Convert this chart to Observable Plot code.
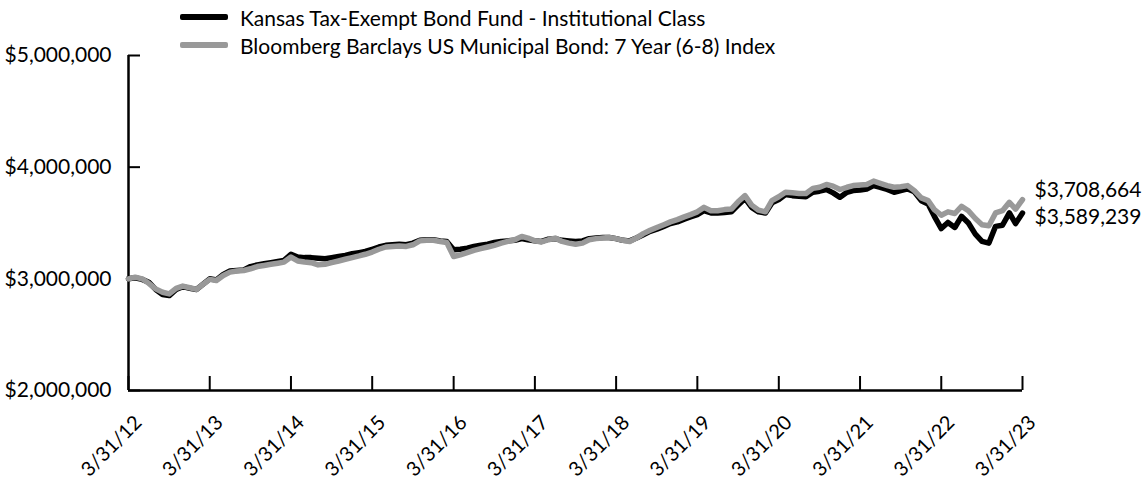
<!DOCTYPE html>
<html>
<head>
<meta charset="utf-8">
<script src="https://cdn.jsdelivr.net/npm/d3@7"></script>
<script src="https://cdn.jsdelivr.net/npm/@observablehq/plot@0.6"></script>
<style>
  html, body { margin: 0; padding: 0; background: #fff; }
  #wrap { position: relative; width: 1144px; height: 480px; font-family: Lato, "Open Sans", sans-serif; }
  #legend { position: absolute; left: 180px; top: 3px; font-size: 21px; color: #000; }
  .row { display: flex; align-items: center; height: 28px; }
  .sw { width: 48px; height: 6px; margin-right: 12px; border-radius: 2px; }
</style>
</head>
<body>
<div id="wrap"><div id="legend"></div></div>
<script>
// Series names
const seriesNames = ["Kansas Tax-Exempt Bond Fund - Institutional Class", "Bloomberg Barclays US Municipal Bond: 7 Year (6-8) Index"];
const seriesColors = ["#000000", "#999999"];

// Monthly values, 3/31/12 .. 3/31/23 (133 month-ends)
const fundValues = [
  3000000, 3010000, 2995000, 2970000, 2905000, 2860000, 2850000, 2905000, 2930000, 2915000, 2905000, 2950000,
  3000000, 2990000, 3040000, 3070000, 3075000, 3080000, 3110000, 3125000, 3135000, 3145000, 3155000, 3165000,
  3220000, 3195000, 3190000, 3190000, 3185000, 3180000, 3190000, 3200000, 3210000, 3225000, 3235000, 3245000,
  3265000, 3285000, 3300000, 3305000, 3310000, 3305000, 3320000, 3345000, 3350000, 3350000, 3340000, 3335000,
  3260000, 3265000, 3275000, 3290000, 3300000, 3310000, 3325000, 3335000, 3340000, 3345000, 3360000, 3350000,
  3340000, 3335000, 3355000, 3360000, 3345000, 3340000, 3335000, 3340000, 3360000, 3365000, 3370000, 3370000,
  3360000, 3345000, 3340000, 3365000, 3395000, 3425000, 3445000, 3470000, 3495000, 3510000, 3535000, 3555000,
  3575000, 3610000, 3590000, 3590000, 3595000, 3600000, 3660000, 3720000, 3640000, 3600000, 3590000, 3680000,
  3710000, 3755000, 3745000, 3740000, 3735000, 3775000, 3785000, 3800000, 3770000, 3730000, 3775000, 3790000,
  3795000, 3805000, 3835000, 3820000, 3800000, 3775000, 3790000, 3805000, 3780000, 3700000, 3670000, 3560000,
  3450000, 3505000, 3460000, 3560000, 3500000, 3400000, 3335000, 3320000, 3470000, 3480000, 3590000, 3495000,
  3589239
];
const indexValues = [
  3000000, 3015000, 3000000, 2960000, 2910000, 2880000, 2865000, 2915000, 2935000, 2920000, 2905000, 2950000,
  2995000, 2985000, 3030000, 3060000, 3070000, 3075000, 3090000, 3110000, 3120000, 3130000, 3140000, 3150000,
  3195000, 3160000, 3150000, 3145000, 3125000, 3130000, 3145000, 3160000, 3175000, 3190000, 3205000, 3220000,
  3240000, 3265000, 3285000, 3290000, 3295000, 3290000, 3305000, 3340000, 3345000, 3345000, 3335000, 3325000,
  3200000, 3215000, 3235000, 3255000, 3270000, 3285000, 3300000, 3320000, 3335000, 3350000, 3380000, 3365000,
  3340000, 3330000, 3350000, 3365000, 3335000, 3320000, 3310000, 3320000, 3350000, 3360000, 3365000, 3370000,
  3360000, 3345000, 3335000, 3365000, 3405000, 3435000, 3460000, 3485000, 3510000, 3530000, 3555000, 3575000,
  3600000, 3640000, 3610000, 3610000, 3620000, 3625000, 3690000, 3745000, 3660000, 3615000, 3600000, 3700000,
  3735000, 3775000, 3770000, 3765000, 3765000, 3810000, 3820000, 3845000, 3830000, 3800000, 3820000, 3835000,
  3840000, 3845000, 3875000, 3855000, 3835000, 3820000, 3825000, 3835000, 3790000, 3725000, 3700000, 3620000,
  3570000, 3600000, 3585000, 3650000, 3610000, 3540000, 3485000, 3475000, 3590000, 3610000, 3685000, 3625000,
  3708664
];
const yTicks = [2000000, 3000000, 4000000, 5000000];
const endLabels = ["$3,708,664", "$3,589,239"];

// Month-end dates
const monthEnd = i => new Date(Date.UTC(2012, 3 + i, 0));
const fundData = fundValues.map((v, i) => ({date: monthEnd(i), value: v}));
const indexData = indexValues.map((v, i) => ({date: monthEnd(i), value: v}));
const xTicks = d3.range(0, 133, 12).map(monthEnd);
const fmtDate = d => `${d.getUTCMonth() + 1}/${d.getUTCDate()}/${String(d.getUTCFullYear()).slice(2)}`;
const fmtMoney = v => "$" + d3.format(",")(v);

const lastIndex = [{date: monthEnd(132), value: indexValues[132], label: endLabels[0]}];
const lastFund = [{date: monthEnd(132), value: fundValues[132], label: endLabels[1]}];

const chart = Plot.plot({
  width: 1144,
  height: 480,
  marginLeft: 128,
  marginRight: 122,
  marginTop: 55,
  marginBottom: 90,
  style: {fontFamily: "Lato, 'Open Sans', sans-serif", fontSize: "20px", color: "#000", background: "#fff"},
  x: {type: "utc", domain: [monthEnd(0), monthEnd(132)]},
  y: {domain: [2000000, 5000000]},
  marks: [
    Plot.axisY({ticks: yTicks, tickSize: 0, tickPadding: 17, tickFormat: fmtMoney, label: null, fontSize: 21}),
    Plot.axisY({ticks: yTicks, tickSize: 12, dx: 12, text: null, strokeWidth: 2, label: null}),
    Plot.axisX({ticks: xTicks, tickSize: 14, dy: -14, text: null, strokeWidth: 2, label: null}),
    Plot.axisX({ticks: xTicks, tickSize: 0, tickRotate: -45, tickFormat: fmtDate, label: null, fontSize: 20, dx: 10, dy: 17}),
    Plot.ruleX([monthEnd(0)], {strokeWidth: 2.5}),
    Plot.ruleY([2000000], {strokeWidth: 2.5}),
    Plot.line(fundData, {x: "date", y: "value", stroke: seriesColors[0], strokeWidth: 5.5}),
    Plot.line(indexData, {x: "date", y: "value", stroke: seriesColors[1], strokeWidth: 5.5}),
    Plot.text(lastIndex, {x: "date", y: "value", text: "label", dy: -9, dx: 12, textAnchor: "start", fontSize: 21, fill: "#000"}),
    Plot.text(lastFund, {x: "date", y: "value", text: "label", dy: 4, dx: 12, textAnchor: "start", fontSize: 21, fill: "#000"})
  ]
});
document.getElementById("wrap").appendChild(chart);

const legend = document.getElementById("legend");
seriesNames.forEach((name, i) => {
  const row = document.createElement("div");
  row.className = "row";
  const sw = document.createElement("span");
  sw.className = "sw";
  sw.style.background = seriesColors[i];
  const tx = document.createElement("span");
  tx.textContent = name;
  row.appendChild(sw); row.appendChild(tx);
  legend.appendChild(row);
});
</script>
</body>
</html>
